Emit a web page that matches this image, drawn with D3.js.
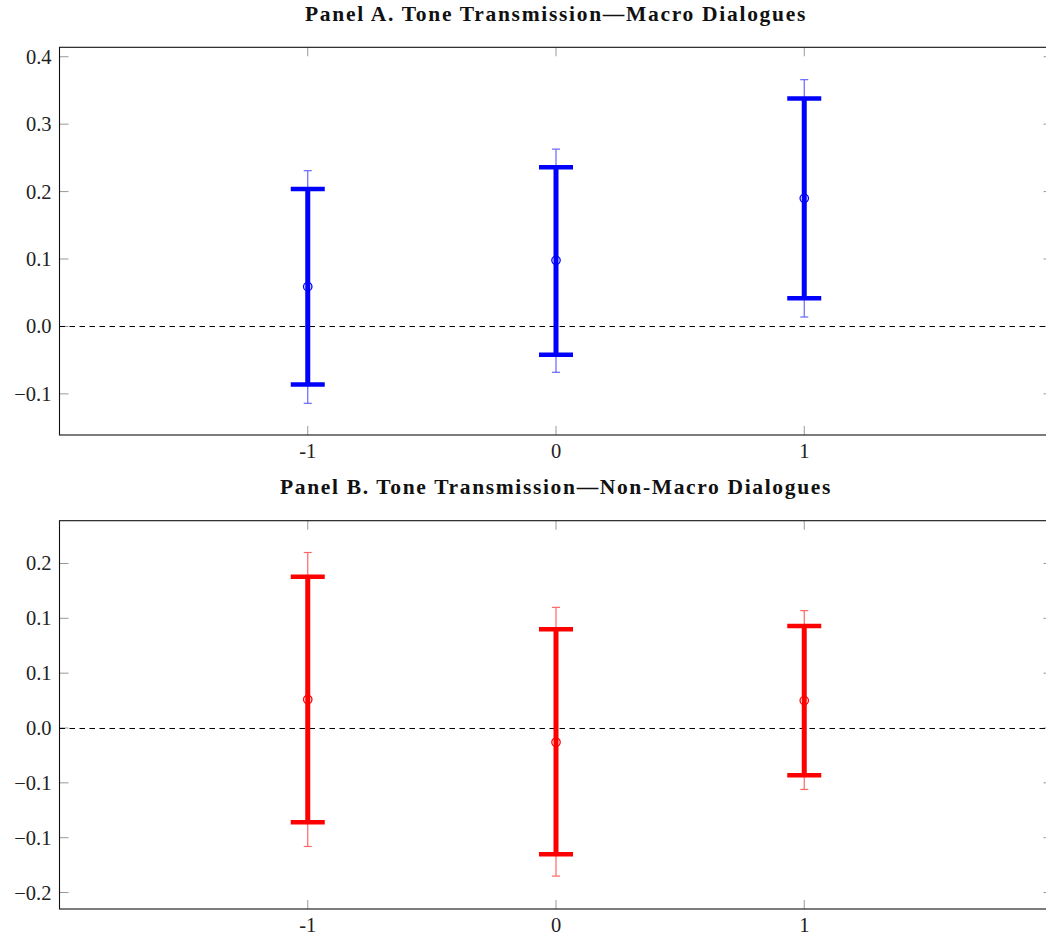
<!DOCTYPE html>
<html><head><meta charset="utf-8">
<script src="https://cdn.jsdelivr.net/npm/d3@7"></script>
<style>body{margin:0;background:#fff}svg{display:block}</style>
</head><body>
<script>
// ---- data ----
const positions = [-1, 0, 1];
const xTickLabels = ["-1", "0", "1"];

const titleA = "Panel A. Tone Transmission\u2014Macro Dialogues";
const meanA = [0.059, 0.098, 0.190];
const ci90LowA = [-0.086, -0.042, 0.042];
const ci90HighA = [0.204, 0.236, 0.338];
const ci95LowA = [-0.114, -0.068, 0.014];
const ci95HighA = [0.231, 0.263, 0.366];
const yDomainA = [-0.161, 0.414];
const yTicksA = [-0.1, 0, 0.1, 0.2, 0.3, 0.4];
const yTickLabelsA = ["\u22120.1", "0.0", "0.1", "0.2", "0.3", "0.4"];

const titleB = "Panel B. Tone Transmission\u2014Non-Macro Dialogues";
const meanB = [0.026, -0.013, 0.025];
const ci90LowB = [-0.086, -0.115, -0.043];
const ci90HighB = [0.138, 0.090, 0.093];
const ci95LowB = [-0.108, -0.135, -0.056];
const ci95HighB = [0.160, 0.110, 0.107];
const yDomainB = [-0.165, 0.189];
const yTicksB = [-0.15, -0.1, -0.05, 0, 0.05, 0.1, 0.15];
const yTickLabelsB = ["\u22120.2", "\u22120.1", "\u22120.1", "0.0", "0.1", "0.1", "0.2"];

const xDomain = [-2, 2];

// ---- drawing ----
const W = 1046, H = 936;
const svg = d3.select("body").append("svg").attr("width", W).attr("height", H);
const serif = "'Liberation Serif', 'DejaVu Serif', serif";

const x = d3.scaleLinear().domain(xDomain).range([59.5, 1052.5]);

function panel(opts) {
  const {title, mean, lo90, hi90, lo95, hi95, yDomain, yTicks, yLabels, top, bottom, color, light} = opts;
  const y = d3.scaleLinear().domain(yDomain).range([bottom, top]);
  const g = svg.append("g");

  // title (spread to the reference width with letter spacing)
  const t = g.append("text").text(title)
    .attr("x", (x.range()[0] + x.range()[1]) / 2).attr("y", top - 26.5)
    .attr("text-anchor", "middle").attr("font-family", serif)
    .attr("font-weight", "bold").attr("font-size", 21.5).attr("fill", "#111");
  const len = t.node().getComputedTextLength();
  t.attr("letter-spacing", (opts.titleWidth - len) / title.length);

  // axes ticks (inward, both sides)
  const tickLen = 9;
  const xr = x.range();
  g.selectAll(".yt").data(yTicks).enter().append("line")
    .attr("x1", xr[0]).attr("x2", xr[0] + tickLen)
    .attr("y1", d => y(d)).attr("y2", d => y(d))
    .attr("stroke", "#999").attr("stroke-width", 1);
  g.selectAll(".ytr").data(yTicks).enter().append("line")
    .attr("x1", xr[1]).attr("x2", xr[1] - tickLen)
    .attr("y1", d => y(d)).attr("y2", d => y(d))
    .attr("stroke", "#999").attr("stroke-width", 1);
  g.selectAll(".xt").data(positions).enter().append("line")
    .attr("x1", d => x(d)).attr("x2", d => x(d))
    .attr("y1", bottom).attr("y2", bottom - tickLen)
    .attr("stroke", "#999").attr("stroke-width", 1);
  g.selectAll(".xtt").data(positions).enter().append("line")
    .attr("x1", d => x(d)).attr("x2", d => x(d))
    .attr("y1", top).attr("y2", top + tickLen)
    .attr("stroke", "#999").attr("stroke-width", 1);

  // tick labels
  g.selectAll(".yl").data(yTicks).enter().append("text")
    .attr("x", xr[0] - 8).attr("y", d => y(d)).attr("dy", "0.34em")
    .attr("text-anchor", "end").attr("font-family", serif).attr("font-size", 20.5)
    .attr("fill", "#222").text((d, i) => yLabels[i]);
  g.selectAll(".xl").data(positions).enter().append("text")
    .attr("x", d => x(d)).attr("y", bottom + 23)
    .attr("text-anchor", "middle").attr("font-family", serif).attr("font-size", 20.5)
    .attr("fill", "#222").text((d, i) => xTickLabels[i]);

  // zero line
  const y0 = Math.round(y(0)) + 0.5;
  g.append("line").attr("x1", xr[0]).attr("x2", xr[1])
    .attr("y1", y0).attr("y2", y0)
    .attr("stroke", "#000").attr("stroke-width", 1).attr("stroke-dasharray", "5.5,4.5");

  // 95% thin bars
  positions.forEach((p, i) => {
    const cx = x(p);
    g.append("line").attr("x1", cx).attr("x2", cx).attr("y1", y(lo95[i])).attr("y2", y(hi95[i]))
      .attr("stroke", light).attr("stroke-width", 1.2);
    [lo95[i], hi95[i]].forEach(v => {
      g.append("line").attr("x1", cx - 4).attr("x2", cx + 4).attr("y1", y(v)).attr("y2", y(v))
        .attr("stroke", light).attr("stroke-width", 1.2);
    });
  });
  // 90% thick bars
  positions.forEach((p, i) => {
    const cx = x(p);
    g.append("line").attr("x1", cx).attr("x2", cx).attr("y1", y(lo90[i])).attr("y2", y(hi90[i]))
      .attr("stroke", color).attr("stroke-width", 5);
    [lo90[i], hi90[i]].forEach(v => {
      g.append("line").attr("x1", cx - 17).attr("x2", cx + 17).attr("y1", y(v)).attr("y2", y(v))
        .attr("stroke", color).attr("stroke-width", 4.5);
    });
  });
  // means
  g.selectAll(".m").data(positions).enter().append("circle")
    .attr("cx", d => x(d)).attr("cy", (d, i) => y(mean[i])).attr("r", 4.2)
    .attr("fill", "none").attr("stroke", color).attr("stroke-width", 1.3);

  // frame
  g.append("rect").attr("x", xr[0]).attr("y", top).attr("width", xr[1] - xr[0]).attr("height", bottom - top)
    .attr("fill", "none").attr("stroke", "#111").attr("stroke-width", 1.1);
}

panel({title: titleA, titleWidth: 502, mean: meanA, lo90: ci90LowA, hi90: ci90HighA, lo95: ci95LowA, hi95: ci95HighA,
  yDomain: yDomainA, yTicks: yTicksA, yLabels: yTickLabelsA, top: 47.3, bottom: 435,
  color: "#0000ff", light: "#6666ff"});
panel({title: titleB, titleWidth: 552, mean: meanB, lo90: ci90LowB, hi90: ci90HighB, lo95: ci95LowB, hi95: ci95HighB,
  yDomain: yDomainB, yTicks: yTicksB, yLabels: yTickLabelsB, top: 520.7, bottom: 909,
  color: "#ff0000", light: "#ff6666"});
</script>
</body></html>
